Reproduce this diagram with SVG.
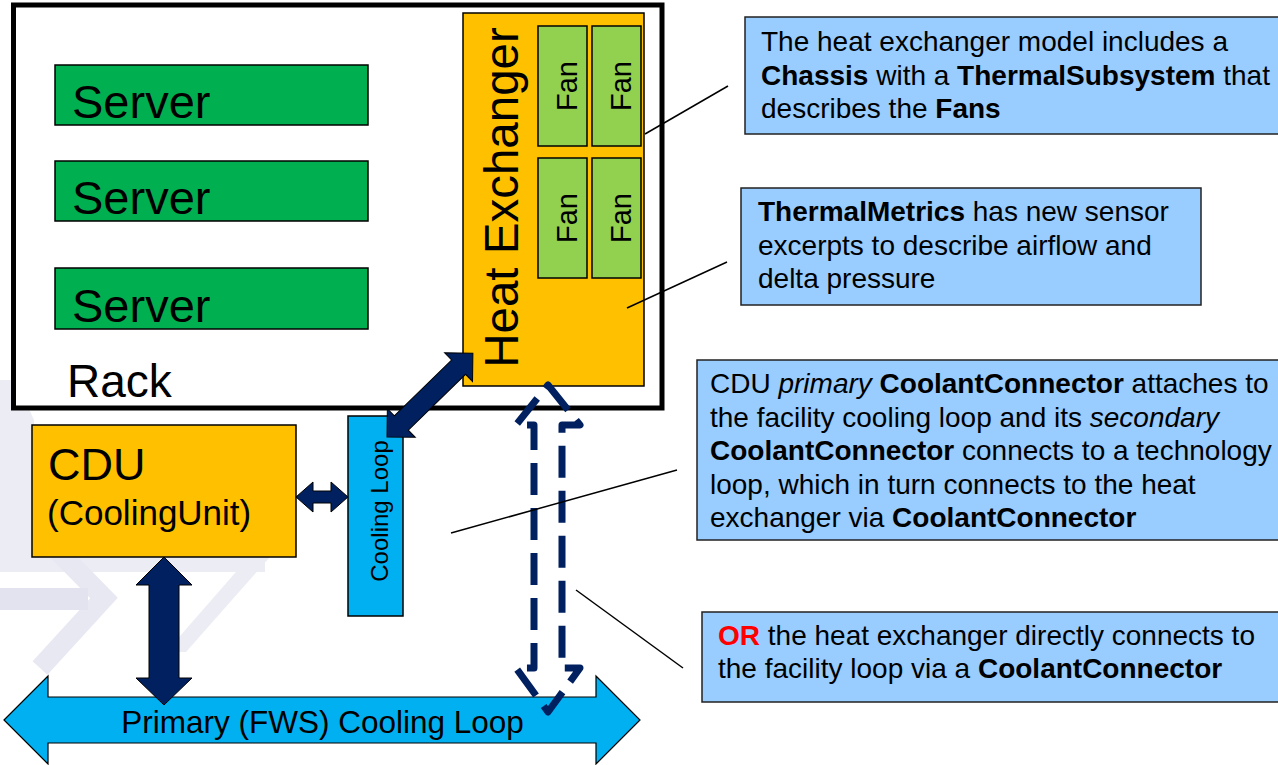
<svg xmlns="http://www.w3.org/2000/svg" width="1278" height="765" viewBox="0 0 1278 765">
<style>
text{font-family:"Liberation Sans",Arial,sans-serif;fill:#000}
.wm{fill:#ECECF5}
.wm2{fill:#E3E3F0}
.box{stroke:#000;stroke-width:1.5}
.srv{fill:#00B050}
.fan{fill:#92D050}
.org{fill:#FFC000}
.cyan{fill:#00B0F0}
.navy{fill:#002060;stroke:#000;stroke-width:1}
.call{fill:#99CCFF;stroke:#222;stroke-width:1.5}
.lead{stroke:#000;stroke-width:1.5;fill:none}
.ct{font-size:28px}
.b{font-weight:bold}
</style>
<rect width="1278" height="765" fill="#fff"/>
<g id="watermark">
<polygon class="wm" points="0,380 16,380 34,420 34,557 0,557"/>
<rect class="wm" x="0" y="557" width="265" height="15"/>
<polygon class="wm" points="249,557 270,557 186,652 166,652"/>
<polyline points="55,548 104,598 40,668" fill="none" stroke="#E8E8F3" stroke-width="20"/>
<rect class="wm2" x="0" y="588" width="88" height="22"/>
</g>
<g id="rack">
<rect x="13.5" y="5" width="648.5" height="403" fill="#fff" stroke="#000" stroke-width="5"/>
<text x="67" y="397" font-size="46">Rack</text>
</g>
<g id="server1"><rect class="box srv" x="55" y="65" width="313" height="60"/><text x="72" y="118" font-size="47">Server</text></g>
<g id="server2"><rect class="box srv" x="55" y="161" width="313" height="60"/><text x="72" y="214" font-size="47">Server</text></g>
<g id="server3"><rect class="box srv" x="55" y="268" width="313" height="61"/><text x="72" y="322" font-size="47">Server</text></g>
<g id="heat-exchanger">
<rect class="box org" x="463" y="13" width="181" height="373"/>
<text transform="translate(518,197.5) rotate(-90)" text-anchor="middle" font-size="47.5">Heat Exchanger</text>
</g>
<g id="fan1"><rect class="box fan" x="538" y="26" width="49" height="120"/><text transform="translate(577,86) rotate(-90)" text-anchor="middle" font-size="29">Fan</text></g>
<g id="fan2"><rect class="box fan" x="592" y="26" width="49" height="120"/><text transform="translate(631,86) rotate(-90)" text-anchor="middle" font-size="29">Fan</text></g>
<g id="fan3"><rect class="box fan" x="538" y="158" width="49" height="120"/><text transform="translate(577,218) rotate(-90)" text-anchor="middle" font-size="29">Fan</text></g>
<g id="fan4"><rect class="box fan" x="592" y="158" width="49" height="120"/><text transform="translate(631,218) rotate(-90)" text-anchor="middle" font-size="29">Fan</text></g>
<g id="cdu">
<rect class="box org" x="32" y="425" width="264" height="132"/>
<text x="48" y="480" font-size="45">CDU</text>
<text x="47" y="525" font-size="35">(CoolingUnit)</text>
</g>
<g id="cooling-loop">
<rect class="box cyan" x="348" y="416" width="55" height="200"/>
<text transform="translate(388,511) rotate(-90)" text-anchor="middle" font-size="24">Cooling Loop</text>
</g>
<g id="primary-loop">
<path class="cyan" stroke="#000" stroke-width="1.2" d="M4,720 L48,676 L48,697 L596,697 L596,676 L640,720 L596,764 L596,743 L48,743 L48,764 Z"/>
<text x="322.5" y="733" text-anchor="middle" font-size="31.5">Primary (FWS) Cooling Loop</text>
</g>
<g id="connectors">
<path class="navy" d="M296,497 L313,482 L313,491 L331,491 L331,482 L348,497 L331,512 L331,503 L313,503 L313,512 Z"/>
<path class="navy" d="M164,557 L192,585 L179,585 L179,678 L192,678 L164,705 L136,678 L149,678 L149,585 L136,585 Z"/>
<path class="navy" transform="translate(387,437) rotate(-44.3)" d="M0,0 L20,-20 L20,-10 L100,-10 L100,-20 L120,0 L100,20 L100,10 L20,10 L20,20 Z"/>
<path d="M548,385 L580,425 L562,425 L562,668 L580,668 L548,712 L516,668 L534,668 L534,425 L516,425 Z" fill="none" stroke="#002060" stroke-width="7" stroke-dasharray="32 13" stroke-linejoin="round"/>
<line class="lead" x1="645" y1="134" x2="728" y2="86"/>
<line class="lead" x1="627" y1="308" x2="727" y2="262"/>
<line class="lead" x1="451" y1="533" x2="677" y2="470"/>
<line class="lead" x1="576" y1="590" x2="683" y2="668"/>
</g>
<g id="note-chassis">
<rect class="call" x="745" y="17" width="540" height="117"/>
<text class="ct" x="761" y="51">The heat exchanger model includes a</text>
<text class="ct" x="761" y="84.5"><tspan class="b">Chassis</tspan> with a <tspan class="b">ThermalSubsystem</tspan> that</text>
<text class="ct" x="761" y="118">describes the <tspan class="b">Fans</tspan></text>
</g>
<g id="note-metrics">
<rect class="call" x="741" y="188" width="460" height="117"/>
<text class="ct" x="758" y="221"><tspan class="b">ThermalMetrics</tspan> has new sensor</text>
<text class="ct" x="758" y="254.5">excerpts to describe airflow and</text>
<text class="ct" x="758" y="288">delta pressure</text>
</g>
<g id="note-cdu">
<rect class="call" x="697" y="360" width="588" height="180"/>
<text class="ct" x="710" y="393">CDU <tspan font-style="italic">primary</tspan> <tspan class="b">CoolantConnector</tspan> attaches to</text>
<text class="ct" x="710" y="426.5">the facility cooling loop and its <tspan font-style="italic">secondary</tspan></text>
<text class="ct" x="710" y="460"><tspan class="b">CoolantConnector</tspan> connects to a technology</text>
<text class="ct" x="710" y="493.5">loop, which in turn connects to the heat</text>
<text class="ct" x="710" y="527">exchanger via <tspan class="b">CoolantConnector</tspan></text>
</g>
<g id="note-or">
<rect class="call" x="702" y="612" width="583" height="90"/>
<text class="ct" x="718" y="645"><tspan class="b" fill="#FF0000">OR</tspan> the heat exchanger directly connects to</text>
<text class="ct" x="718" y="678">the facility loop via a <tspan class="b">CoolantConnector</tspan></text>
</g>
</svg>
